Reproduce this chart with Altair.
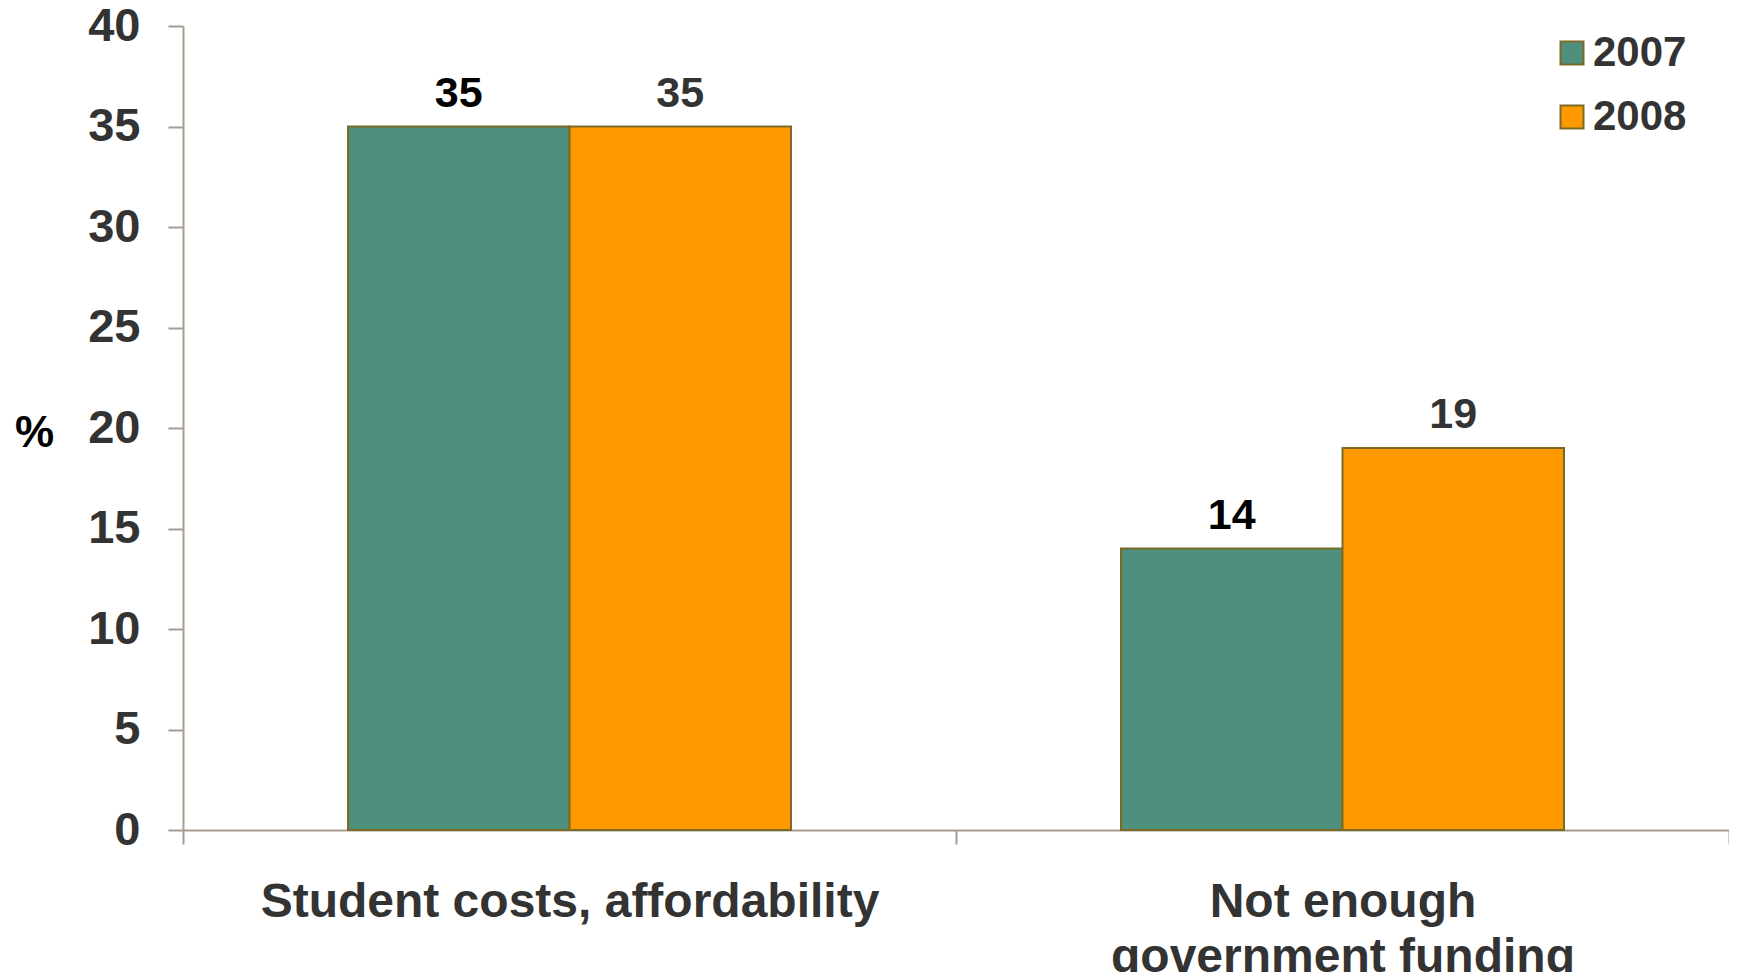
import altair as alt
import pandas as pd

categories = ["Student costs, affordability", "Not enough government funding"]
years = ["2007", "2008"]
values_2007 = [35, 14]
values_2008 = [35, 19]

rows = []
for c, v in zip(categories, values_2007):
    rows.append({"category": c, "year": "2007", "value": v})
for c, v in zip(categories, values_2008):
    rows.append({"category": c, "year": "2008", "value": v})
df = pd.DataFrame(rows)

FONT = "Liberation Sans"
AXIS_COLOR = "#A59D8E"
STROKE = "#7A6A26"

x_enc = alt.X(
    "category:N",
    sort=categories,
    scale=alt.Scale(paddingInner=0, paddingOuter=0),
    axis=alt.Axis(
        title=None,
        labelAngle=0,
        labelLimit=0,
        labelFont=FONT,
        labelFontSize=48,
        labelFontWeight="bold",
        labelColor="#333333",
        labelPadding=34,
        labelLineHeight=55,
        labelBaseline="top",
        labelExpr="datum.value == 'Not enough government funding' ? ['Not enough', 'government funding'] : datum.value",
        tickBand="extent",
        tickSize=14,
        tickColor=AXIS_COLOR,
        tickWidth=2,
        domainColor=AXIS_COLOR,
        domainWidth=2,
    ),
)
xoff = alt.XOffset("year:N", sort=years, scale=alt.Scale(paddingInner=0, paddingOuter=0.745))
y_enc = alt.Y(
    "value:Q",
    scale=alt.Scale(domain=[0, 40], nice=False),
    axis=alt.Axis(
        values=[0, 5, 10, 15, 20, 25, 30, 35, 40],
        grid=False,
        title="%",
        titleAngle=0,
        titleX=-149,
        titleY=407,
        titleAlign="center",
        titleBaseline="middle",
        titleFont=FONT,
        titleFontSize=44,
        titleFontWeight="bold",
        titleColor="#000000",
        labelFont=FONT,
        labelFontSize=47,
        labelFontWeight="bold",
        labelColor="#333333",
        labelPadding=28,
        tickSize=15,
        tickColor=AXIS_COLOR,
        tickWidth=2,
        domainColor=AXIS_COLOR,
        domainWidth=2,
    ),
)

bars = alt.Chart(df).mark_bar(stroke=STROKE, strokeWidth=2).encode(
    x=x_enc,
    xOffset=xoff,
    y=y_enc,
    color=alt.Color(
        "year:N",
        sort=years,
        scale=alt.Scale(domain=years, range=["#4F8F7E", "#FF9900"]),
        legend=alt.Legend(
            title=None,
            orient="none",
            legendX=1368,
            legendY=6,
            padding=0,
            symbolType="square",
            symbolSize=529,
            symbolStrokeColor=STROKE,
            symbolStrokeWidth=2,
            labelFont=FONT,
            labelFontSize=42,
            labelFontWeight="bold",
            labelColor="#333333",
            labelOffset=0,
            rowPadding=22,
        ),
    ),
)

labels = alt.Chart(df).mark_text(
    font=FONT, fontSize=43, fontWeight="bold", baseline="alphabetic", dy=-20
).encode(
    x=alt.X("category:N", sort=categories),
    xOffset=xoff,
    y="value:Q",
    text="value:Q",
    color=alt.condition("datum.year == '2007'", alt.value("#000000"), alt.value("#333333")),
)

chart = (
    alt.layer(bars, labels)
    .properties(
        width=1546,
        height=804,
        autosize=alt.AutoSizeParams(type="none"),
        padding={"left": 175, "top": 18, "right": 0, "bottom": 142},
    )
    .configure_view(stroke=None)
)

chart.save("out.html", embed_options={"renderer": "svg", "actions": False})
